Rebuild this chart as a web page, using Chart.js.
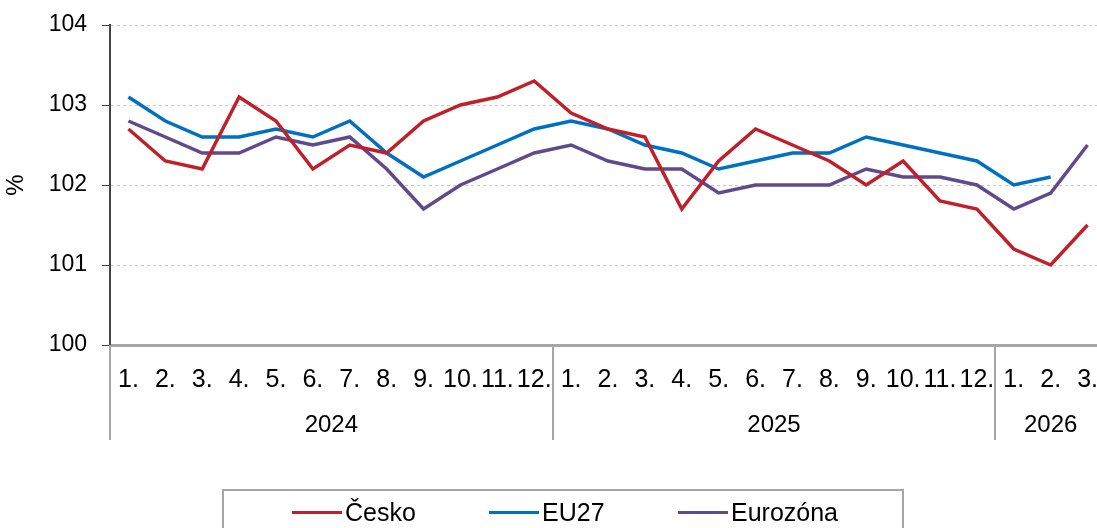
<!DOCTYPE html>
<html>
<head>
<meta charset="utf-8">
<script src="https://cdn.jsdelivr.net/npm/chart.js@4/dist/chart.umd.min.js"></script>
<style>
  html, body { margin: 0; padding: 0; background: #fff; overflow: hidden; width: 1097px; height: 528px; }
  #wrap { position: relative; width: 1097px; height: 528px; }
  #myChart { position: absolute; left: 0; top: 0; }
  #legend { position: absolute; left: 222px; top: 489px; width: 682px; height: 50px;
            border: 2px solid #a6a6a6; box-sizing: border-box; }
  .itm { position: absolute; top: 7px; font: 25px "Liberation Sans", Arial, sans-serif; color: #000;
         display: flex; align-items: center; white-space: nowrap; }
  .itm i { display: inline-block; width: 50px; height: 3px; margin-right: 3px; }
</style>
</head>
<body>
<div id="wrap">
  <canvas id="myChart" width="1108" height="528"></canvas>
  <div id="legend"></div>
</div>
<script>
// months of each year shown on the axis
var years = ["2024", "2025", "2026"];
var monthsPerYear = [12, 12, 3];

var cesko = [102.7, 102.3, 102.2, 103.1, 102.8, 102.2, 102.5, 102.4, 102.8, 103.0, 103.1, 103.3,
             102.9, 102.7, 102.6, 101.7, 102.3, 102.7, 102.5, 102.3, 102.0, 102.3, 101.8, 101.7,
             101.2, 101.0, 101.5];
var eu27 = [103.1, 102.8, 102.6, 102.6, 102.7, 102.6, 102.8, 102.4, 102.1, 102.3, 102.5, 102.7,
            102.8, 102.7, 102.5, 102.4, 102.2, 102.3, 102.4, 102.4, 102.6, 102.5, 102.4, 102.3,
            102.0, 102.1, null];
var eurozona = [102.8, 102.6, 102.4, 102.4, 102.6, 102.5, 102.6, 102.2, 101.7, 102.0, 102.2, 102.4,
                102.5, 102.3, 102.2, 102.2, 101.9, 102.0, 102.0, 102.0, 102.2, 102.1, 102.1, 102.0,
                101.7, 101.9, 102.5];

var seriesNames = ["Česko", "EU27", "Eurozóna"];
var colors = ["#c0202a", "#0070c0", "#5f4b8b"];

var yMin = 100, yMax = 104, yStep = 1;
var FONT = "'Liberation Sans', Arial, sans-serif";

var lbls = [];
for (var y = 0; y < years.length; y++) {
  for (var m = 1; m <= monthsPerYear[y]; m++) lbls.push(m + ".");
}

// year row + separators under the month labels
var yearAxis = {
  id: "yearAxis",
  afterDraw: function(chart) {
    var ctx = chart.ctx;
    var x = chart.scales.x;
    var half = (x.getPixelForValue(1) - x.getPixelForValue(0)) / 2;
    var top = chart.chartArea.bottom;
    ctx.save();
    ctx.strokeStyle = "#a6a6a6";
    ctx.lineWidth = 2;
    ctx.fillStyle = "#000";
    ctx.font = "24px " + FONT;
    ctx.textAlign = "center";
    ctx.textBaseline = "middle";
    var start = 0;
    for (var i = 0; i < years.length; i++) {
      var x0 = x.getPixelForValue(start) - half;
      var x1 = x.getPixelForValue(start + monthsPerYear[i] - 1) + half;
      ctx.beginPath();
      ctx.moveTo(Math.round(x0), top);
      ctx.lineTo(Math.round(x0), top + 95);
      ctx.stroke();
      ctx.fillText(years[i], (x0 + x1) / 2, top + 80);
      start += monthsPerYear[i];
    }
    ctx.restore();
  }
};

var sets = [cesko, eu27, eurozona].map(function(d, i) {
  return {
    label: seriesNames[i],
    data: d,
    borderColor: colors[i],
    backgroundColor: colors[i],
    borderWidth: 3.5,
    pointRadius: 0,
    tension: 0,
    spanGaps: false
  };
});

var ctx = document.querySelector("#myChart").getContext("2d");
var lineChart = new Chart(ctx, {
  type: "line",
  data: { labels: lbls, datasets: sets },
  plugins: [yearAxis],
  options: {
    responsive: false,
    animation: false,
    layout: { padding: { top: 25, right: 2, left: 0, bottom: 0 } },
    plugins: { legend: { display: false }, tooltip: { enabled: false } },
    scales: {
      x: {
        offset: true,
        grid: { display: false },
        border: { display: true, color: "#a6a6a6", width: 3 },
        ticks: { color: "#000", font: { family: FONT, size: 25 }, padding: 12,
                 autoSkip: false, maxRotation: 0 },
        afterFit: function(s) { s.height = 183; s.paddingLeft = 0; s.paddingRight = 0; }
      },
      y: {
        min: yMin, max: yMax,
        grid: { color: "#c8c8c8", lineWidth: 1, tickLength: 8, tickColor: "#444" },
        border: { display: true, color: "#444", width: 2, dash: [3, 3] },
        ticks: { stepSize: yStep, color: "#000", font: { family: FONT, size: 23 }, padding: 15 },
        title: { display: true, text: "%", color: "#000", font: { family: FONT, size: 24 }, padding: 2 },
        afterFit: function(s) { s.width = 110; s.paddingTop = 0; s.paddingBottom = 0; }
      }
    }
  }
});

// legend below the chart
var legendEl = document.getElementById("legend");
var itemLeft = [68, 265, 454];
seriesNames.forEach(function(n, i) {
  var d = document.createElement("div");
  d.className = "itm";
  d.style.left = itemLeft[i] + "px";
  d.innerHTML = '<i style="background:' + colors[i] + '"></i>' + n;
  legendEl.appendChild(d);
});
</script>
</body>
</html>
